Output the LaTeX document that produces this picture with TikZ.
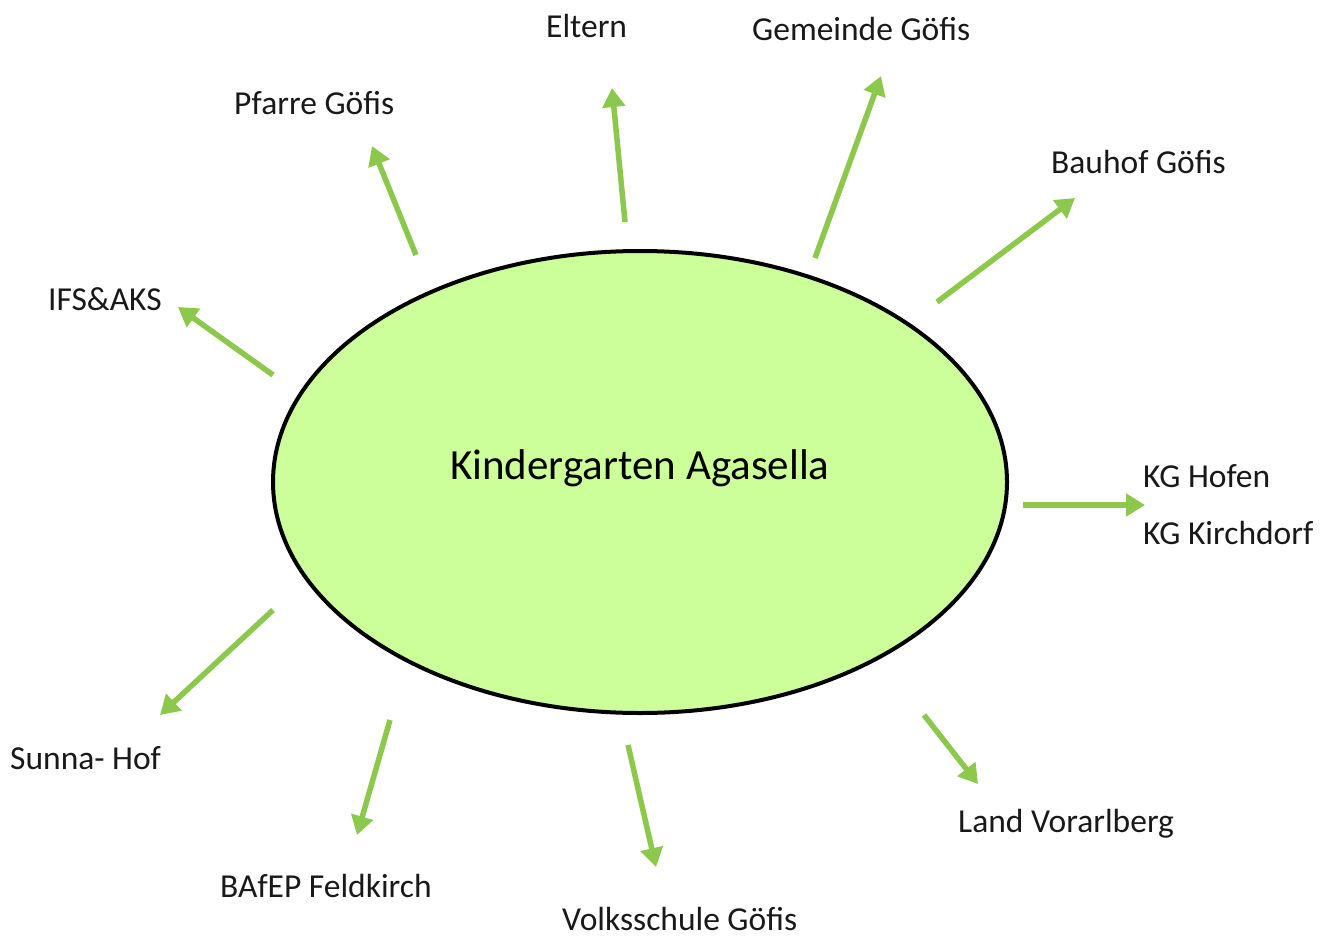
\documentclass[tikz,border=0pt]{standalone}
\usepackage{fontspec}
\setmainfont{Carlito}
\usetikzlibrary{arrows.meta,shapes.geometric}
\definecolor{ellfill}{RGB}{204,255,153}
\definecolor{arrgreen}{RGB}{140,200,75}
\tikzset{
  lbl/.style={anchor=base west,inner sep=0pt,font=\fontsize{33.5}{40}\selectfont,text=black!90},
  link/.style={draw=arrgreen,line width=5.5pt,-{Triangle[length=19pt,width=22pt]}},
  center/.style={ellipse,draw=black,line width=4pt,fill=ellfill,minimum width=734pt,minimum height=462pt,inner sep=0pt}
}
\begin{document}
\begin{tikzpicture}[x=1pt,y=-1pt]
\path[use as bounding box,fill=white] (0,0) rectangle (1330,939);
\node[center] (kg) at (640,482) {};
\node[anchor=base west,inner sep=0pt,font=\fontsize{43}{50}\selectfont] (kgt) at (450,479) {Kindergarten Agasella};

\node[lbl] (pfarre) at (234,115) {Pfarre Göfis};
\node[lbl] (eltern) at (546,38) {Eltern};
\node[lbl] (gemeinde) at (752,41) {Gemeinde Göfis};
\node[lbl] (bauhof) at (1051,173) {Bauhof Göfis};
\node[lbl] (ifs) at (48,310) {IFS\&AKS};
\node[lbl] (hofen) at (1143,487) {KG Hofen};
\node[lbl] (kirchdorf) at (1143,544) {KG Kirchdorf};
\node[lbl] (sunna) at (10,769) {Sunna- Hof};
\node[lbl] (bafep) at (220,897) {BAfEP Feldkirch};
\node[lbl] (vs) at (562,930) {Volksschule Göfis};
\node[lbl] (land) at (958,832) {Land Vorarlberg};

\coordinate (s1) at (416,255); \coordinate (e1) at (372,146);
\coordinate (s2) at (625,222); \coordinate (e2) at (612,88);
\coordinate (s3) at (815,258); \coordinate (e3) at (881,76);
\coordinate (s4) at (937,302); \coordinate (e4) at (1075,198);
\coordinate (s5) at (273,375); \coordinate (e5) at (178,307);
\coordinate (s6) at (1023,505); \coordinate (e6) at (1145,505);
\coordinate (s7) at (273,610); \coordinate (e7) at (160,715);
\coordinate (s8) at (390,720); \coordinate (e8) at (357,835);
\coordinate (s9) at (628,745); \coordinate (e9) at (656,867);
\coordinate (s10) at (924,715); \coordinate (e10) at (978,784);

\foreach \i in {1,...,10} {\draw[link] (s\i) -- (e\i);}
\end{tikzpicture}
\end{document}
